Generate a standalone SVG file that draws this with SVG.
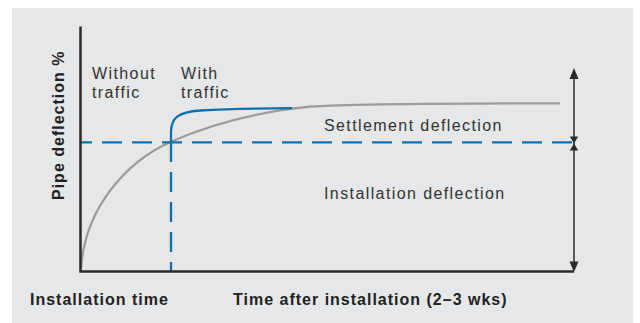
<svg xmlns="http://www.w3.org/2000/svg" width="640" height="323" viewBox="0 0 640 323">
<defs>
<style>
.lbl{font-family:"Liberation Sans",Arial,sans-serif;font-size:16px;fill:#333;letter-spacing:1.4px}
.bold{font-family:"Liberation Sans",Arial,sans-serif;font-size:16px;font-weight:bold;fill:#222;letter-spacing:1px}
.axis{stroke:#2b2b2b;stroke-width:2.5;fill:none}
.dash{stroke:#1070aa;stroke-width:2.3;fill:none;stroke-dasharray:20 10}
.arrow{fill:#2b2b2b}
</style>
</defs>
<rect x="0" y="0" width="640" height="323" fill="#ffffff"/>
<rect x="12" y="8" width="621" height="315" fill="#e6e7e8"/>

<g id="curves">
<path id="gray-curve" d="M81,270 C84,210 125,162 171,141.7 C211,124.1 260,111.7 310,106.7 C340,104.5 430,103.3 560,103.3" stroke="#9b9b9b" stroke-width="2.2" fill="none"/>
<path id="blue-curve" d="M171,142 L171,132 C171,118 178,112 200,110.5 C225,109 260,108.3 292,108.2" stroke="#1070aa" stroke-width="2.3" fill="none"/>
</g>

<g id="connectors">
<path class="dash" d="M572,142.3 H80"/>
<path class="dash" d="M171,142 V271"/>
<path class="axis" d="M80.5,26.5 V271.5 H574"/>
<line x1="574" y1="74" x2="574" y2="268" stroke="#2b2b2b" stroke-width="1.5"/>
<polygon class="arrow" points="574,68 578.5,79 569.5,79"/>
<polygon class="arrow" points="574,143.5 578.2,136.5 569.8,136.5"/>
<polygon class="arrow" points="574,143.5 578.2,150.5 569.8,150.5"/>
<polygon class="arrow" points="574,272 578.5,261.5 569.5,261.5"/>
</g>

<g id="labels">
<text class="lbl" x="92" y="78.5">Without</text>
<text class="lbl" x="92" y="98">traffic</text>
<text class="lbl" x="181" y="78.5">With</text>
<text class="lbl" x="181" y="98">traffic</text>
<text class="lbl" x="324" y="130.5">Settlement deflection</text>
<text class="lbl" x="324" y="199">Installation deflection</text>
<text class="bold" x="30" y="304.5">Installation time</text>
<text class="bold" x="233" y="304.5">Time after installation (2–3 wks)</text>
<text class="bold" transform="translate(64,200) rotate(-90)">Pipe deflection %</text>
</g>
</svg>
